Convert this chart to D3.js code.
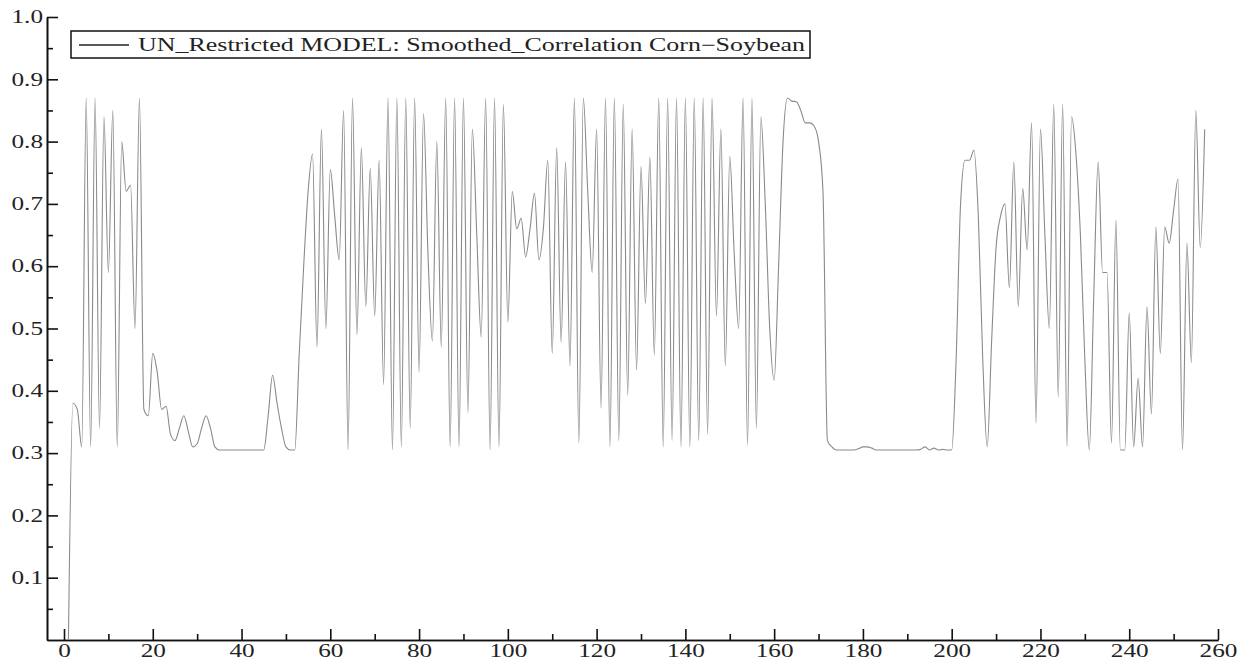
<!DOCTYPE html>
<html>
<head>
<meta charset="utf-8">
<script src="https://cdn.jsdelivr.net/npm/d3@7"></script>
<style>
body{margin:0;background:#fff}
text{font-family:"Liberation Serif","Times New Roman",serif;fill:#222}
.axis path,.axis line{stroke:#111;stroke-width:1.6}
</style>
</head>
<body>
<svg id="chart" width="1250" height="660"></svg>
<script>
// observation index of the first value
var firstIndex = 1;

// smoothed correlation, one value per observation (1..257)
var corrValues = [
  0, 0.38, 0.37, 0.31, 0.87, 0.31, 0.87, 0.34, 0.84, 0.59,
  0.85, 0.31, 0.80, 0.72, 0.73, 0.50, 0.87, 0.37, 0.36, 0.46,
  0.43, 0.37, 0.375, 0.33, 0.32, 0.34, 0.36, 0.335, 0.31, 0.315,
  0.34, 0.36, 0.34, 0.31, 0.305, 0.305, 0.305, 0.305, 0.305, 0.305,
  0.305, 0.305, 0.305, 0.305, 0.305, 0.36, 0.425, 0.38, 0.34, 0.31,
  0.305, 0.305, 0.46, 0.60, 0.72, 0.78, 0.47, 0.82, 0.50, 0.755,
  0.68, 0.61, 0.85, 0.305, 0.87, 0.49, 0.79, 0.535, 0.757, 0.52,
  0.77, 0.41, 0.87, 0.305, 0.87, 0.31, 0.87, 0.34, 0.87, 0.43,
  0.845, 0.62, 0.48, 0.80, 0.47, 0.87, 0.31, 0.87, 0.31, 0.87,
  0.365, 0.82, 0.65, 0.486, 0.87, 0.305, 0.87, 0.31, 0.86, 0.51,
  0.72, 0.66, 0.677, 0.615, 0.66, 0.717, 0.61, 0.66, 0.77, 0.46,
  0.79, 0.478, 0.767, 0.44, 0.87, 0.316, 0.87, 0.72, 0.59, 0.82,
  0.372, 0.87, 0.31, 0.87, 0.32, 0.86, 0.393, 0.82, 0.433, 0.76,
  0.54, 0.775, 0.457, 0.87, 0.31, 0.87, 0.32, 0.87, 0.31, 0.87,
  0.31, 0.87, 0.32, 0.87, 0.33, 0.87, 0.52, 0.82, 0.44, 0.776,
  0.62, 0.50, 0.87, 0.313, 0.87, 0.34, 0.84, 0.70, 0.50, 0.417,
  0.60, 0.80, 0.87, 0.865, 0.864, 0.85, 0.83, 0.83, 0.825, 0.80,
  0.72, 0.32, 0.31, 0.305, 0.305, 0.305, 0.305, 0.305, 0.307, 0.31,
  0.31, 0.308, 0.305, 0.305, 0.305, 0.305, 0.305, 0.305, 0.305, 0.305,
  0.305, 0.305, 0.306, 0.31, 0.305, 0.308, 0.305, 0.306, 0.305, 0.305,
  0.45, 0.70, 0.77, 0.77, 0.786, 0.68, 0.45, 0.31, 0.48, 0.63,
  0.68, 0.70, 0.565, 0.767, 0.535, 0.725, 0.626, 0.83, 0.348, 0.82,
  0.65, 0.50, 0.86, 0.39, 0.86, 0.31, 0.84, 0.78, 0.65, 0.45,
  0.305, 0.55, 0.767, 0.59, 0.59, 0.316, 0.674, 0.305, 0.305, 0.525,
  0.31, 0.42, 0.31, 0.535, 0.363, 0.663, 0.46, 0.663, 0.637, 0.69,
  0.74, 0.305, 0.637, 0.445, 0.85, 0.63, 0.82
];

var xTicks = [0,20,40,60,80,100,120,140,160,180,200,220,240,260];
var xMinorTicks = [10,30,50,70,90,110,130,150,170,190,210,230,250];
var yTicks = [0.1,0.2,0.3,0.4,0.5,0.6,0.7,0.8,0.9,1.0];
var yMinorTicks = [0.05,0.15,0.25,0.35,0.45,0.55,0.65,0.75,0.85,0.95];
var legendLabel = "UN_Restricted MODEL: Smoothed_Correlation Corn\u2212Soybean";

// the source picture is stretched sideways, so text is widened to match
var stretchText = function(sel,k)
{
    sel.each(function()
    {
        var w = this.getComputedTextLength();
        d3.select(this)
        .attr("textLength",w*k)
        .attr("lengthAdjust","spacingAndGlyphs");
    })
}

var svg = d3.select("#chart");

var xScale = d3.scaleLinear()
    .domain([-3.83,260])
    .range([47,1218]);

var yScale = d3.scaleLinear()
    .domain([0,1])
    .range([640,17]);

var points = corrValues.map(function(v,i)
{
    return {x:firstIndex+i, y:v};
});

// minor ticks first, then the labelled axes over them
svg.append("g")
.attr("class","axis")
.attr("transform","translate(0,640)")
.call(d3.axisBottom(xScale).tickValues(xMinorTicks).tickSizeInner(-6).tickSizeOuter(0).tickFormat(""));

svg.append("g")
.attr("class","axis")
.attr("transform","translate(47,0)")
.call(d3.axisLeft(yScale).tickValues(yMinorTicks).tickSizeInner(-6).tickSizeOuter(0).tickFormat(""));

var xAxis = svg.append("g")
.attr("class","axis")
.attr("transform","translate(0,640)")
.call(d3.axisBottom(xScale).tickValues(xTicks).tickSizeInner(-11).tickSizeOuter(0).tickPadding(4).tickFormat(d3.format("d")));

var yAxis = svg.append("g")
.attr("class","axis")
.attr("transform","translate(47,0)")
.call(d3.axisLeft(yScale).tickValues(yTicks).tickSizeInner(-11).tickSizeOuter(0).tickPadding(4).tickFormat(d3.format(".1f")));

xAxis.selectAll("text").attr("font-size",18).attr("fill","#222");
yAxis.selectAll("text").attr("font-size",18).attr("fill","#222");
stretchText(xAxis.selectAll("text"),1.4);
stretchText(yAxis.selectAll("text"),1.4);

var line = d3.line()
    .x(function(d){ return xScale(d.x); })
    .y(function(d){ return yScale(d.y); })
    .curve(d3.curveMonotoneX);

svg.append("path")
.datum(points)
.attr("d",line)
.attr("fill","none")
.attr("stroke","#8a8a8a")
.attr("stroke-width",1.1);

// legend
var legend = svg.append("g").attr("class","legend");

legend.append("rect")
.attr("x",71)
.attr("y",31)
.attr("width",739)
.attr("height",27)
.attr("fill","#fff")
.attr("stroke","#111")
.attr("stroke-width",1.5);

legend.append("line")
.attr("x1",79)
.attr("x2",129)
.attr("y1",45)
.attr("y2",45)
.attr("stroke","#222")
.attr("stroke-width",1.3);

var legendText = legend.append("text")
.text(legendLabel)
.attr("x",138)
.attr("y",51)
.attr("font-size",18);

legendText.attr("textLength",667).attr("lengthAdjust","spacingAndGlyphs");
</script>
</body>
</html>
